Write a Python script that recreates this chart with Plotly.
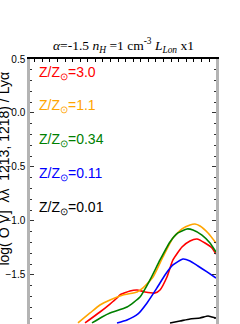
import plotly.graph_objects as go

# Visible portion of the chart (x in tick units of the top axis)
orange_x = [5.71, 7.30, 8.61, 9.93, 11.65, 13.50, 14.29, 15.61, 16.92, 18.24, 19.43, 20.49, 21.15, 21.81, 22.87, 23.92]
orange_y = [-1.944, -1.852, -1.778, -1.731, -1.685, -1.657, -1.620, -1.519, -1.333, -1.157, -1.074, -1.037, -1.028, -1.046, -1.111, -1.204]

red_x = [6.64, 8.61, 9.93, 10.86, 11.25, 12.57, 13.50, 14.55, 15.87, 16.53, 17.45, 18.24, 19.43, 20.49, 21.41, 22.47, 23.39, 23.92]
red_y = [-1.944, -1.843, -1.769, -1.713, -1.685, -1.648, -1.639, -1.657, -1.667, -1.639, -1.519, -1.361, -1.241, -1.185, -1.167, -1.204, -1.250, -1.306]

green_x = [7.56, 8.88, 9.93, 12.18, 13.89, 15.21, 16.53, 17.85, 18.90, 20.09, 20.88, 22.07, 23.13, 23.92]
green_y = [-1.944, -1.889, -1.852, -1.796, -1.704, -1.546, -1.361, -1.194, -1.111, -1.074, -1.083, -1.130, -1.204, -1.287]

blue_x = [10.86, 12.18, 13.63, 14.82, 16.13, 17.19, 18.24, 19.56, 20.49, 21.54, 22.74, 23.92]
blue_y = [-1.944, -1.917, -1.861, -1.759, -1.620, -1.500, -1.407, -1.352, -1.370, -1.417, -1.472, -1.528]

black_x = [17.85, 19.17, 20.49, 21.81, 22.87, 23.39, 23.92]
black_y = [-1.944, -1.926, -1.907, -1.898, -1.880, -1.889, -1.898]

series = [
    ("Z/Z<sub>⊙</sub>=3.0", "red", red_x, red_y),
    ("Z/Z<sub>⊙</sub>=1.1", "orange", orange_x, orange_y),
    ("Z/Z<sub>⊙</sub>=0.34", "green", green_x, green_y),
    ("Z/Z<sub>⊙</sub>=0.11", "blue", blue_x, blue_y),
    ("Z/Z<sub>⊙</sub>=0.01", "black", black_x, black_y),
]
legend_y = [0.947, 0.823, 0.694, 0.566, 0.438]

fig = go.Figure()
for name, col, xs, ys in series:
    fig.add_trace(go.Scatter(x=xs, y=ys, mode="lines", name=name,
                             line=dict(color=col, width=1.6, shape="spline", smoothing=0.5),
                             showlegend=False, cliponaxis=True))

for (name, col, _, _), ly in zip(series, legend_y):
    fig.add_annotation(text=name, xref="paper", yref="paper", x=0.035, y=ly,
                       xanchor="left", yanchor="middle", showarrow=False,
                       font=dict(family="Liberation Sans, Arial", size=14, color=col))

fig.add_annotation(text="<i>α</i>=-1.5 <i>n<sub>H</sub></i> =1 cm<sup>-3</sup> <i>L<sub>Lon</sub></i> x1",
                   xref="paper", yref="paper", x=0.5, y=1.0, yshift=2,
                   xanchor="center", yanchor="bottom", showarrow=False,
                   font=dict(family="Liberation Serif, Times New Roman, serif", size=13.5, color="black"))

fig.add_annotation(text="log( O V]\u00a0\u00a0λλ\u00a0\u00a01213,\u00a01218)\u00a0/\u00a0Lyα",
                   xref="paper", yref="paper", x=-0.142, y=0.585, textangle=-90,
                   xanchor="center", yanchor="middle", showarrow=False,
                   font=dict(family="Liberation Sans, Arial", size=14, color="black"))

fig.add_annotation(text="−2.0", xref="paper", yref="paper", x=-0.01, y=-0.0187,
                   xanchor="right", yanchor="middle", showarrow=False,
                   font=dict(family="Liberation Sans, Arial", size=10, color="black"))

fig.update_layout(
    width=240, height=324,
    margin=dict(l=30, r=24, t=59, b=0),
    paper_bgcolor="white", plot_bgcolor="white",
    xaxis=dict(range=[-0.62, 23.92], side="top", showline=True, linecolor="black", linewidth=1.5,
               ticks="inside", ticklen=3, tickcolor="black", dtick=1, tick0=0,
               showticklabels=False, showgrid=False, zeroline=False),
    yaxis=dict(range=[-1.954, 0.5], showline=True, linecolor="#b4b4b4", linewidth=2.5, mirror="ticks",
               ticks="inside", ticklen=4, tickcolor="#333333", dtick=0.5, tick0=0,
               tickformat=".1f", ticklabeloverflow="allow",
               tickfont=dict(family="Liberation Sans, Arial", size=10, color="black"),
               minor=dict(dtick=0.1, ticks="inside", ticklen=2, tickcolor="#333333"),
               showgrid=False, zeroline=False),
)

fig.write_html("out.html", config={"displayModeBar": False},
               post_script="document.body.style.margin='0';document.body.style.overflow='hidden';")
